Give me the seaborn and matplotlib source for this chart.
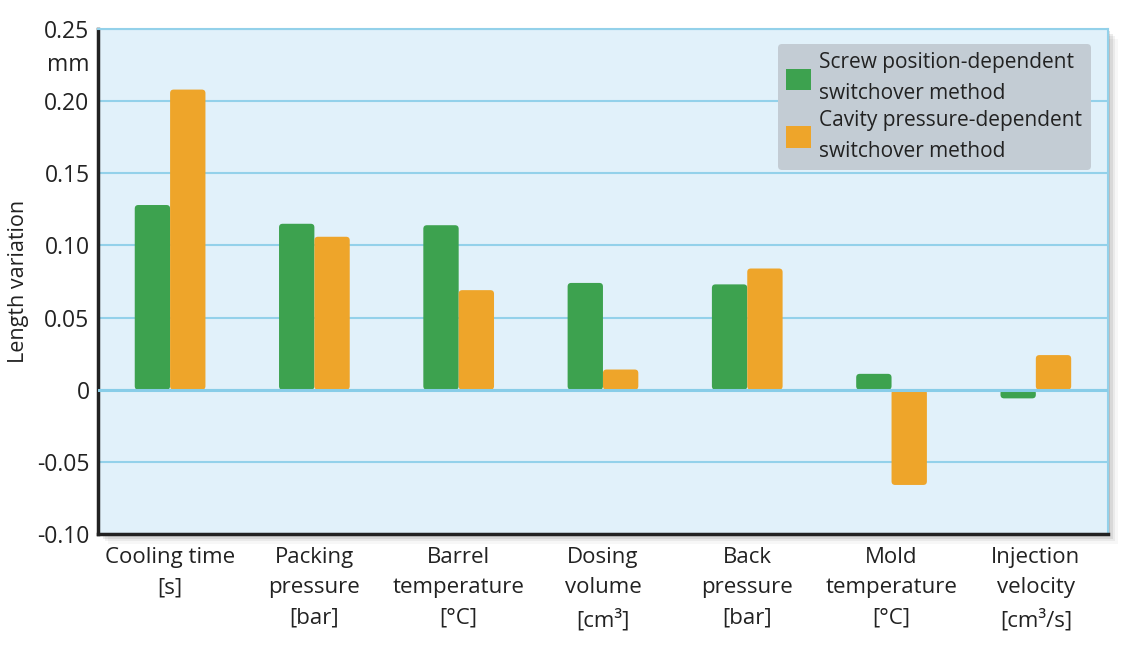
import pandas as pd
import seaborn as sns
import matplotlib.pyplot as plt
from matplotlib.patches import Rectangle, FancyBboxPatch, Patch
from matplotlib.ticker import FixedLocator

categories = ["Cooling time\n[s]", "Packing\npressure\n[bar]", "Barrel\ntemperature\n[°C]",
              "Dosing\nvolume\n[cm³]", "Back\npressure\n[bar]", "Mold\ntemperature\n[°C]",
              "Injection\nvelocity\n[cm³/s]"]
screw_values = [0.128, 0.115, 0.114, 0.074, 0.073, 0.011, -0.006]
cavity_values = [0.208, 0.106, 0.069, 0.014, 0.084, -0.066, 0.024]
series_names = ["Screw position-dependent\nswitchover method",
                "Cavity pressure-dependent\nswitchover method"]
colors = ["#3da24f", "#eea52a"]
ytick_values = [-0.10, -0.05, 0, 0.05, 0.10, 0.15, 0.20, 0.25]
ytick_labels = ["-0.10", "-0.05", "0", "0.05", "0.10", "0.15", "0.20", "0.25"]

df = pd.DataFrame({
    "category": categories * 2,
    "value": screw_values + cavity_values,
    "method": [series_names[0]] * len(categories) + [series_names[1]] * len(categories),
})

sns.set_style("white")
plt.rcParams['font.family'] = ['Open Sans', 'DejaVu Sans']

fig = plt.figure(figsize=(11.22, 6.51), dpi=100)
ax = fig.add_axes([0.0873, 0.1797, 0.9002, 0.7758])
ax.set_zorder(2)

# soft drop shadow behind the plot area
for i, a in enumerate([0.12, 0.08, 0.05, 0.03]):
    off = 0.0022 * (i + 1)
    fig.patches.append(Rectangle((0.0873 + off, 0.1797 - off * 1.72), 0.9002, 0.7758,
                                 transform=fig.transFigure, facecolor="black",
                                 alpha=a, edgecolor="none", zorder=-1))

ax.set_facecolor("#e1f1fa")
sns.barplot(data=df, x="category", y="value", hue="method",
            palette=colors, width=0.49, saturation=1,
            edgecolor="none", ax=ax, zorder=3, legend=False)

ax.set_xlim(-0.5, 6.5)
ax.set_ylim(-0.10, 0.25)

# swap the plain bars for slightly rounded ones
for bar in list(ax.patches):
    x, y = bar.get_x(), bar.get_y()
    w, h = bar.get_width(), bar.get_height()
    y0, h0 = min(y, y + h), abs(h)
    rb = FancyBboxPatch((x, y0), w, h0, boxstyle="round,pad=0,rounding_size=0.025",
                        mutation_aspect=0.1, facecolor=bar.get_facecolor(),
                        edgecolor="none", zorder=3)
    bar.set_visible(False)
    ax.add_patch(rb)

ax.set_yticks(ytick_values)
ax.set_yticklabels(ytick_labels)
ax.yaxis.grid(True, color="#93d1ea", linewidth=1.5, zorder=1)
ax.set_axisbelow(True)
ax.axhline(0, color="#88cde8", linewidth=2.2, zorder=4)
ax.annotate("mm", xy=(0, 0.225), xycoords=ax.get_yaxis_transform(),
            xytext=(-6, 0), textcoords="offset points", ha="right",
            va="center", fontsize=16.5, color="#222222")

ax.tick_params(axis="y", length=0, labelsize=16.5, colors="#222222", pad=6)
ax.tick_params(axis="x", length=0, labelsize=16, colors="#222222", pad=9)
for lbl in ax.get_xticklabels():
    lbl.set_linespacing(1.6)
ax.xaxis.set_minor_locator(FixedLocator([0.5, 1.5, 2.5, 3.5, 4.5, 5.5]))
ax.tick_params(axis="x", which="minor", direction="in", length=7, width=1.2,
               color="#93d1ea")

ax.set_xlabel("")
ax.set_ylabel("Length variation", fontsize=15.5, color="#222222", labelpad=6)

for side in ["left", "bottom"]:
    ax.spines[side].set_color("#222222")
    ax.spines[side].set_linewidth(2.5)
for side in ["top", "right"]:
    ax.spines[side].set_color("#93d1ea")
    ax.spines[side].set_linewidth(1.5)

handles = [Patch(facecolor=c, edgecolor="none") for c in colors]
leg = ax.legend(handles, series_names, loc="upper right",
                bbox_to_anchor=(0.983, 0.970), fontsize=15,
                frameon=True, facecolor="#c3ccd4", edgecolor="none", framealpha=1,
                fancybox=True, handlelength=1.2, handleheight=1.2, handletextpad=0.4,
                labelspacing=0.3, borderpad=0.4, borderaxespad=0)
for t in leg.get_texts():
    t.set_color("#222222")
    t.set_linespacing(1.6)

plt.savefig("out.png", dpi=100)
